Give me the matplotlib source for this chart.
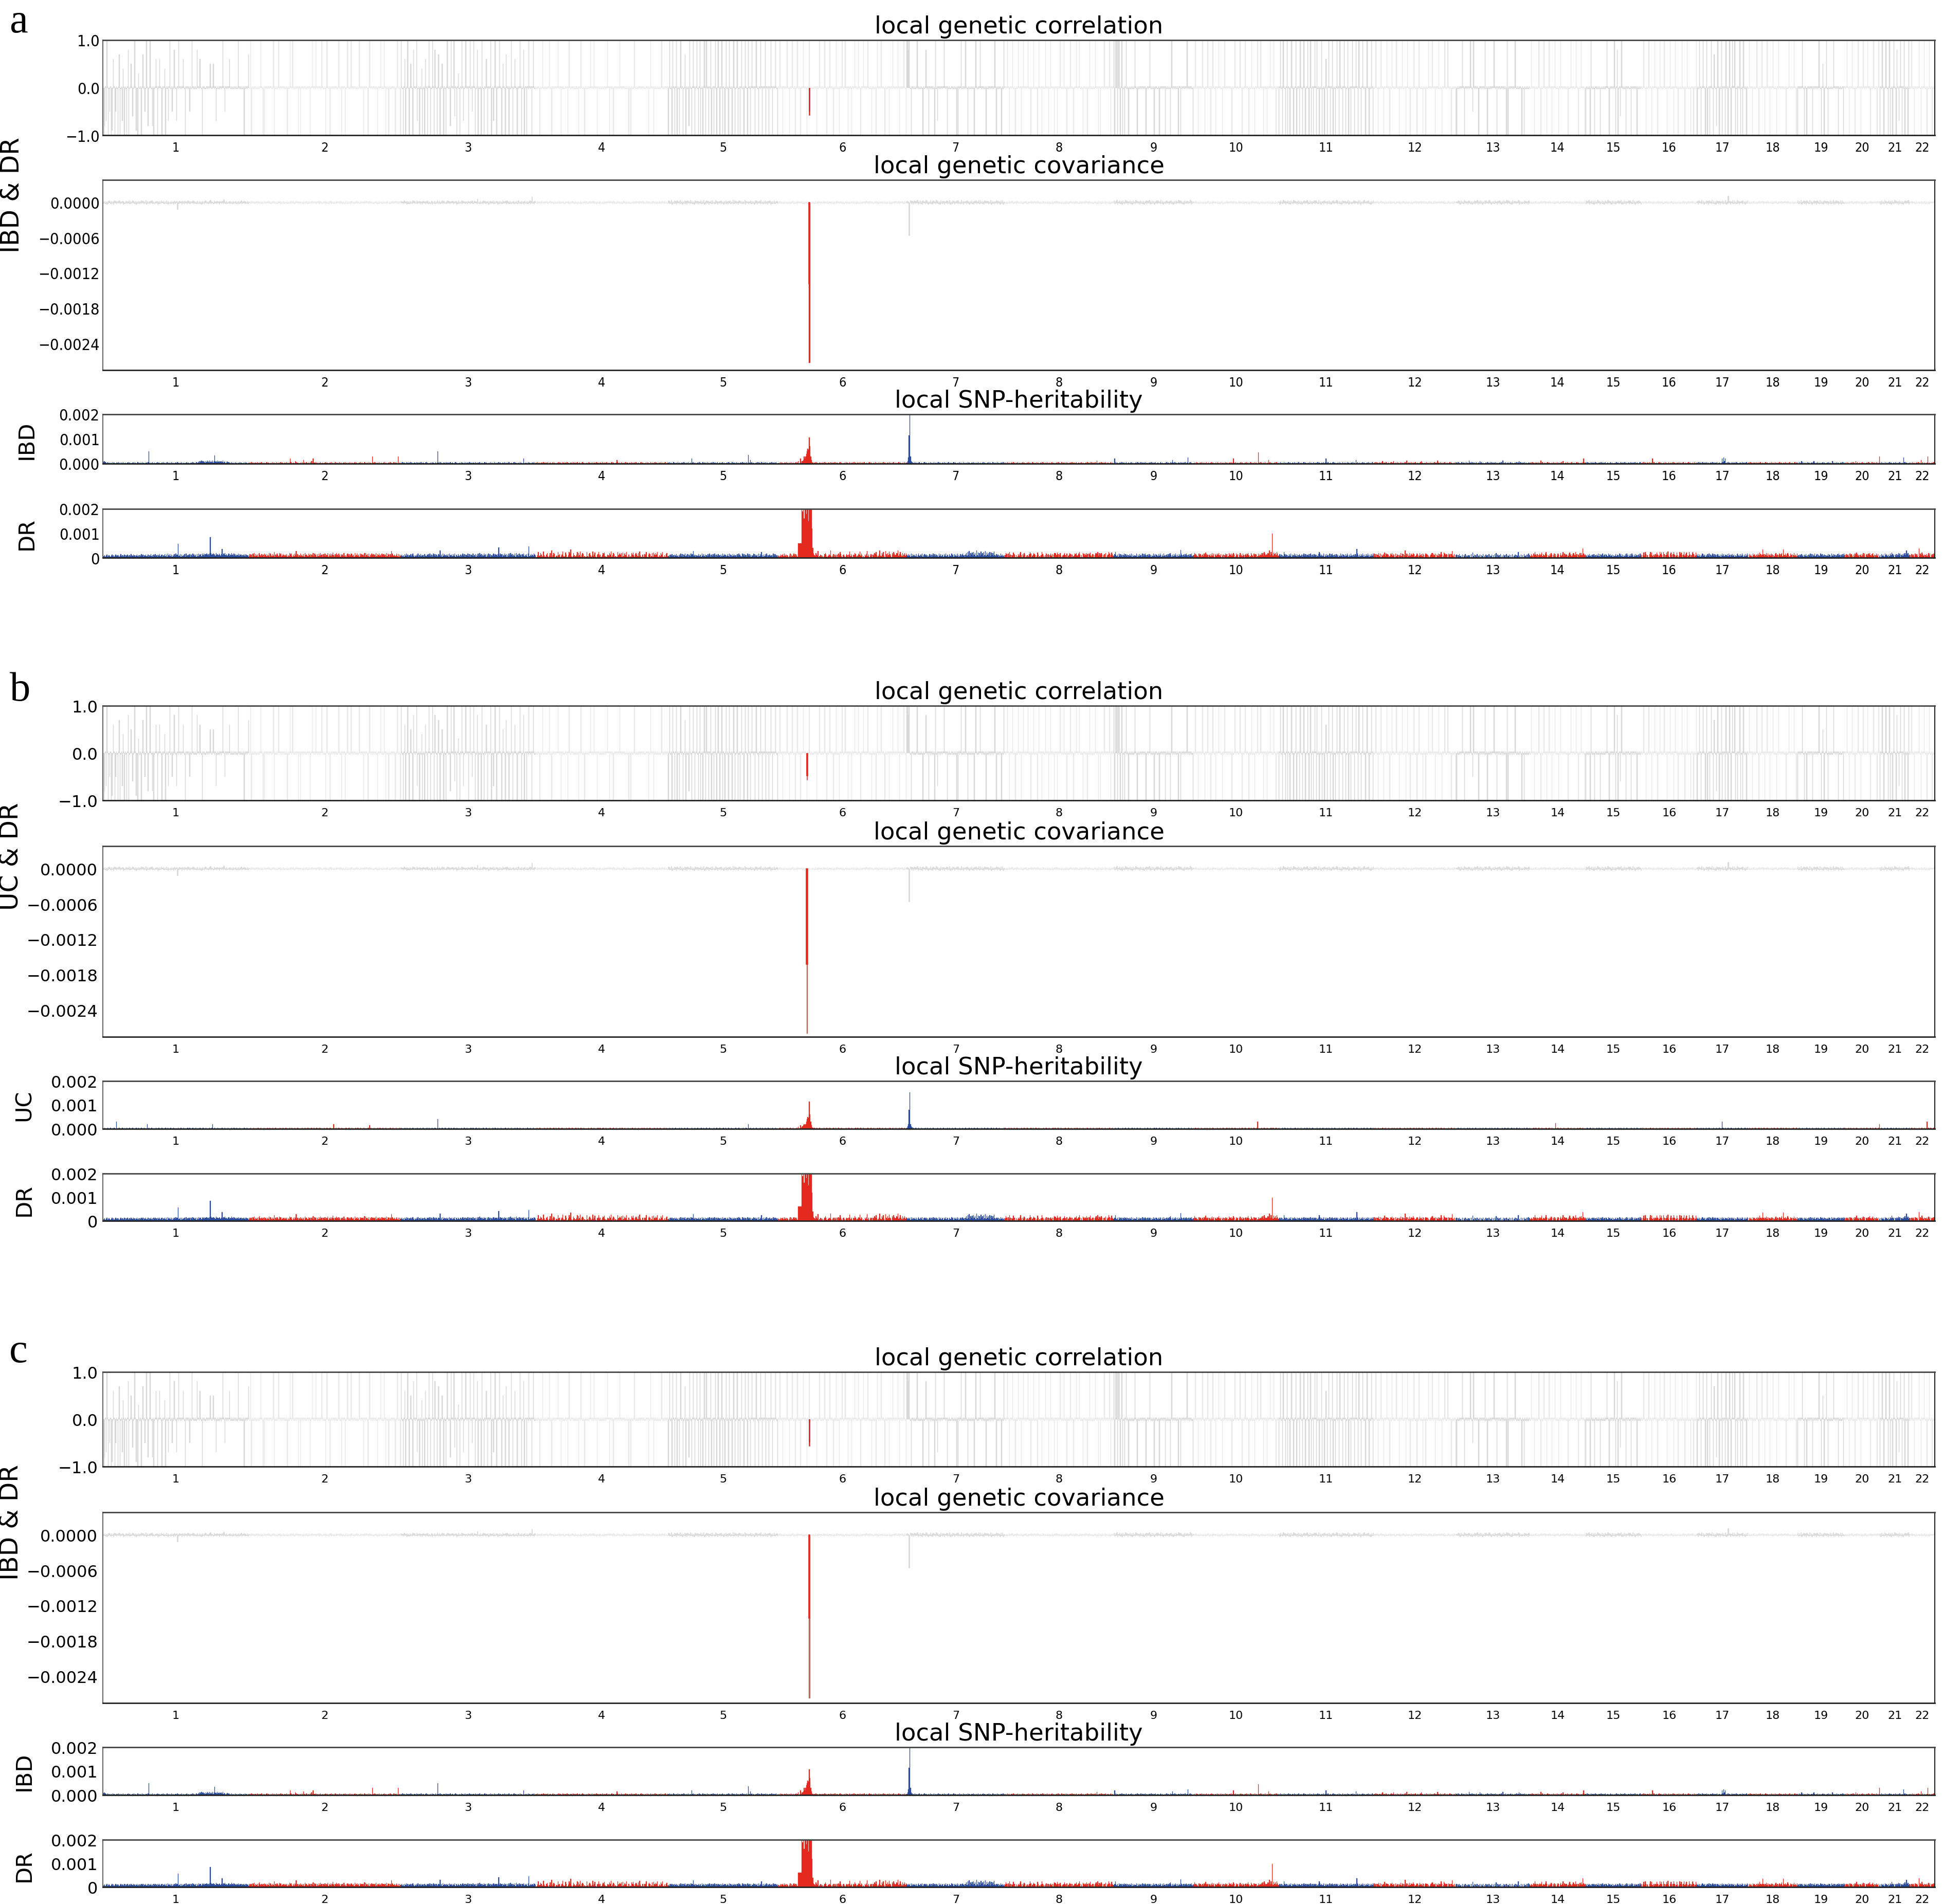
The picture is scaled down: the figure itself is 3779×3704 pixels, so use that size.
import numpy as np
import matplotlib
matplotlib.use("Agg")
import matplotlib.pyplot as plt
from matplotlib.font_manager import FontProperties, findfont

# ----------------------------------------------------------------- data
chromosomes = [str(i) for i in range(1, 23)]
blocks_per_chrom = [199, 207, 183, 181, 150, 175, 134, 148, 109, 116, 129,
                    113, 100, 76, 76, 76, 69, 68, 64, 48, 41, 34]

# local genetic correlation of non-significant loci (one symbol per LD block)
# 'a'..'j' = +0.1..+1.0, 'A'..'J' = -0.1..-1.0, '0' = +0.03, '-' = -0.03
rho_gray_codes = [
    "-JH0Gj0J-E 0JI-f0JE0- J0gJ-0Gd0J 0-J0hJ-0e0 F-0j0I-Jc0 -0J0g-0E-j 0H-0j0-H0J -0f0J-0f0- J0-0dJ0-0G 0j-0E0-h0- G0-j0-0-0f 0-J0-0-0E0 -j0-0-0-h0 0-f0-J0-0- -0-0-0e0-0 e0-0G-0-0- 0-0j0-E0-0 -0f0-0-0-0 0-0-j0-0-0 -0J0-0-0g",
    "0-jJ0-0-0- -0-0-0j0-J 0J0-0-0-00 0-0jJ0-0-0 j0-0-0-0-0 -0J0-0j0-j 0-0-0-0J0- J0-0-0-0-0 0-0J-0j0-0 -j0-0-0-0j 0-0-J0j0-0 J0-0-0-0-0 -0j0-0J0-0 0J-0j0-0-j -0-0-0-0-- j0-0-0J0-0 0-J0j0-0-0 -0-0-J0-0j 0-0-j0J0-0 J0-0-0-0-J 0-j0-0J",
    "j0-J0fJ-0j -J0e0-Jh0- 0jG-0J0-dJ -0Jf0-J0j0 J-0j0Jh0-J 0g-J0-e0J0 -J0j0-0Hj0 0-jF0-J0c- J0-j0G-0j0 -0J0j-0E0j 0J-0hJ0-0J j0-J0-f0J0 -0jJ-0G0j0 J0-0j0-J0e 0-Jg0-0J0- j0J-0f0-J0 -0j0J-0hJ0 0J0-j0-0J0 j0-",
    "0-0-0-J0-0 j-0-0-0-0j -0J0-0-0-0 0j0-0J0-0- -0-0J0j0-0 0-0-0-0-0J 0-j0-0-J0- 0-0-0j0-0- j0-0J0-0-0 -0-0-0-0j0 0J0-0-J0-0 -0-0-j0-0- 0-0-0-0J0- J0-0-j0-0- 0-0-0-0-0- -0-0J0-j0- 0J0-0-0-0- -0j0-0-0-0 0",
    "J0j-0Jj0-J 0jJ0-J0j-0 J-0gJ0-0Hj 0-J0j0J-0j -J0jJ-0J0j 0Jj-0J0-jJ -0J0j-J0j0 J0-jJ0-J0j -0Jj0-0J0j 0J-0jJ-0J0 j-0J0j0-Jj 0-J0j0-0J0 j0-J0-j0J0 -0jJ0-0J0- j0J0-0j0-J",
    "0-j0-0J0-0 -0j0-J0-0j 0-0J0-j0-0 J0-0j0-0-J 0-j0-0---0 -0J0-0j0-0 0-0j0-J0-0 j0-0-J0-0j -0-J0-0j0- 0j0-0J0-0- J0-0j0-0-j 0-J0-0j0-0 -0j0-0-J0- 0-0J0j0-0- j0-0-J0-0- 0J0-0-j0-0 -0-j0J0-0- 0j0-J",
    "jjhj0-J0-0 -0-0j-0-0- 0-J0-0h0-0 J0-0-0-0Jj -0G0-0-0-0 0j0-0J0-0- -0-0-0-0J0 J0-0j-0-0- j0-J0-0-0- 0-J0j0-0-0 j0-0-0-0J0 -0-0-0-0-0 j0J0-0-0-J 0-j0",
    "0-0j0-J0-0 j-0-J0-0j0 -0J0-j0-0- 0j0-0J0-0j -0-0J0j0-0 J0-0-j0-0J 0-j0-0-J0- 0J0-0j0-0- j0-0J0-0-j -0-J0-0j0- 0j0-0-J0-0 -0J0-j0-0- 0-0j0-0J0- J0-0-j0-0- 0-j0J0-0",
    "jJj0jJj-jJ 0jJ-0J0j-0 J-0-0-0-0j 0-J0-0-0-0 -0-0J-0-0j 0-0-0J0-0- -0J0-0-0-0 J0-0-0-J0j -0-0-0-0J0 0J-0-0-0-0 j-0-0-0-J",
    "0-j0-0J0-0 -0j0-J0-0j 0-0J0-j0-0 J0-0j0-0-J 0-j0-0-0-0 -0J0-0j0-0 0-0j0-J0-0 j0-0-J0-0j -0-J0-0j0- 0j0-0J0-0- J0-0j0-0-j 0-J0-0",
    "J0j-0Jj0-J 0jJ0-J0j-0 J-0jJ0-0Jj 0-J0j0J-0j -J0jJ-0J0j 0Jj-0J0-jJ -0J0f-J0j0 J0-jJ0-J0j -0Jj0-0J0j 0J-0jJ-0J0 j-0J0j0-Jj 0-J0j0-0J0 j0-J0-j0J",
    "0-0j0-J0-0 j-0-J0-0j0 -0J0-j0-0- 0j0-0J0-0j -0-0J0j0-0 J0-0-j0-0J 0-j0-0-J0- 0J0-0j0-0- j0-0J0-0-j -0-J0-0j0- 0j0-0-J0-0 -0J",
    "J0-0-0-0j0 -J0-0-0-0j 0-Ej0-0-0- J0-0-0-0-j -0J0-0-0-0 0j0-0J0-0- -0-0-0-0Jj J0-0-0-0-0 j0-0-0-0-J 0-J0-0-0-0",
    "0-j0-0J0-0 -0j0-J0-0j 0-0J0-j0-0 J0-0j0-0-J 0-j0-0-0-0 -0J0-0j0-0 0-0j0-J0-0 j0-0-J",
    "J0-0-0Jj0- 0-J0-0-0-0 J-0-0-0-0j 0-J0-0-0-j -J0hJ-0F0j 0-0-0J0-0- -0J0-0-0-0 J0-0-0",
    "0-0j0-J0-0 j-0-J0-0j0 -0J0-j0-0- 0j0-0J0-0j -0-0J0j0-0 J0-0-j0-0J 0-j0-0-J0- 0J0-0j",
    "J0-j0J-0j0 -J0jJ-0J0j 0-Jg0-H0j0 J0-jJ0-0Jj -0J0j-J0j0 0jJ-0J0-jJ -0Jj0-0J0",
    "0-j0-0J0-0 -0j0-J0-0j 0-0J0-j0-0 J0-0j0-0-J 0-j0-0-0-0 -0J0-0j0-0 0-0j0-J0",
    "J0-0-0j0-J 0-J0-0-0-0 J-0-0-0-0j 0-J0e0J-0j -J0-0-0-0j 0-0-0J0-0- -0J0",
    "0-0j0-J0-0 j-0-J0-0j0 -0J0-j0-0- 0j0-0J0-0j -0-0J0j0",
    "J0-j0J-0j0 -J0jJ-0J0j 0-Jh0-G0j0 J0-jJ0-0Jj -",
    "0-j0-0J0-0 -0j0-J0-0j 0-0J0-j0-0 J0-0",
]

# local genetic covariance of non-significant loci
# '1'..'9' = +1e-5..+9e-5, 'a'..'i' = -1e-5..-9e-5, '0' = 0
cov_gray_codes = [
    "1a2b1c2a31 b2a1c3a2b1 2a3b1a2c1b a2b1a3b2a1 3a1b2c1a2b 1b3a2b1a4c 2a1b2a3b1a b1a2c1b2a3 1a2b1a3b2c a1b2a1c2b1 2f1b2a1c2a b2a1b3a2b1 1a3b2a1b2a a2b1c2a1b3 2a1b2a4b1a b3a1b2a1c2 1a2b5a1b2a a1b2a1b2a1 2b1a2b1a3b 1a2b1a2b1",
    "a1b2a1b1a2 1b2a1a2b1a 2a1b1a2a1b b1a2b1a1b2 1a2b1a2b1a a2b1a1b2a1 2b1a2a1b1a 1a1b2a1a2b b2a1a2b1a1 1b1a2b2a1b a1a2b1a1b2 2b2a1b1a2a 1a1b2a1b1a b2a2b1a1b2 1a1b1a2b1a a2b1a1b2a1 2a1b2a1a1b b1a2b1b2a1 1b2a1a1b2a a1b1a2b1a2 2a1b1a2",
    "2a1b3a1c2b 1b2a1b3a2a a3b1a2b1c2 2a1b2a3b1a b2c1a2b1a3 1a2b1a3b2a a1b3a2b1a2 2b1a2c1b3a 1a3b2a1b1a b2a1b2a3b1 2a1b6a1b2a 1b3a2b1a2c a2b1a3b2a1 2c1b2a1b3a 1a2b3a1b2a b1a2b1a2b3 3a1b2a1c2a a2b1a3b29a 1b2",
    "1a2b1a1b2a a1b1a2b1a2 2b1a1b2a1a 1a2b1b1a2b b1a1a2b1a1 2a1b2a1b1a a2b1a1a2b1 1b1a2b1a2a 2a1b1a2b1b a1b2a1b1a2 1a2a1b2b1a b2a1b1a1b2 2a1b2a1a1b a1a2b1b2a1 1b2a1a2b1a a2b1b1a1b2 2a1a2b1a2b 1b2a1b2a1a b",
    "3b2a4c1a3b 2c3a1b4a2c 1a3b2c3a1b 4a2b1c3a2b 2c1a3b2a4c 1b3a2c1a3b 3a1b4a2c1a 2b3a1c2a3b 1c2a3b1a4b 3a2b1c3a2a 2b1a4c2a1b 1a3b2a1c3a 3c1a2b4a1b 2a3b1c2a3c 1b2a3b1a2b",
    "1a2b1a1b2a a1b1a2b1a2 2b1a1b2a1a 1a2b1b1a2b b1a00b1a1b 2a1b2a1b1a a2b1a1a2b1 1b1a2b1a2a 2a1b1a2b1b a1b2a1b1a2 1a2a1b2b1a b2a1b1a1b2 2a1b2a1a1b a1a2b1b2a1 1b2a1a2b1a a2b1b1a1b2 2a1a2b1a2b 1b2a1",
    "2a1003b2c1 3b2a4c1a3b 2c3a1b4a2c 1a3b2c3a1b 4a2b1c3a2b 2c1a3b2a4c 1b3a2c1a3b 3a1b4a2c1a 2b3a1c2a3b 1c2a3b1a4b 3a2b1c3a2a 2b1a4c2a1b 1a3b2a1c3a 3c1a",
    "a1b1a2b1a2 2b1a1b2a1a 1a2b1b1a2b b1a1a2b1a1 2a1b2a1b1a a2b1a1a2b1 1b1a2b1a2a 2a1b1a2b1b a1b2a1b1a2 1a2a1b2b1a b2a1b1a1b2 2a1b2a1a1b a1a2b1b2a1 1b2a1a2b1a a2b1b1a1",
    "3b2a4c1a3b 2c3a1b4a2c 1a3b2c3a1b 4a2b1c3a2b 2c1a3b2a4c 1b3a2c1a3b 3a1b4a2c1a 2b3a1c2a3b 1c2a3b1a4b 3a2b1c3a2a 2b1a4c2a1",
    "1a2b1a1b2a a1b1a2b1a2 2b1a1b2a1a 1a2b1b1a2b b1a1a2b1a1 2a1b2a1b1a a2b1a1a2b1 1b1a2b1a2a 2a1b1a2b1b a1b2a1b1a2 1a2a1b2b1a b2a1b1",
    "2c3a1b4a2c 1a3b2c3a1b 4a2b1c3a2b 2c1a3b2a4c 1b3a2c1a3b 3a1b4a2c1a 2b3a1c2a3b 1c2a3b1a4b 3a2b1c3a2a 2b1a4c2a1b 1a3b2a1c3a 3c1a2b4a1b 2a3b1c2a3",
    "a1b1a2b1a2 2b1a1b2a1a 1a2b1b1a2b b1a1a2b1a1 2a1b2a1b1a a2b1a1a2b1 1b1a2b1a2a 2a1b1a2b1b a1b2a1b1a2 1a2a1b2b1a b2a1b1a1b2 2a1",
    "1a3b2c3a1b 4a2b1c3a2b 2c1a3b2a4c 1b3a2c1a3b 3a1b4a2c1a 2b3a1c2a3b 1c2a3b1a4b 3a2b1c3a2a 2b1a4c2a1b 1a3b2a1c3a",
    "1a2b1a1b2a a1b1a2b1a2 2b1a1b2a1a 1a2b1b1a2b b1a1a2b1a1 2a1b2a1b1a a2b1a1a2b1 1b1a2b",
    "3b2a4c1a3b 2c3a1b4a2c 1a3b2c3a1b 4a2b1c3a2b 2c1a3b2a4c 1b3a2c1a3b 3a1b4a2c1a 2b3a1c",
    "a1b1a2b1a2 2b1a1b2a1a 1a2b1b1a2b b1a1a2b1a1 2a1b2a1b1a a2b1a1a2b1 1b1a2b1a2a 2a1b1a",
    "2c3a1b4a2c 1a3b2c3a1b 4a2b1c3a2b 2c1a3b2a4c 1b3a2c1a3b 3a1b4a2c1a 2b3a1c2a3",
    "1a2b1a1b2a a1b1a2b1a2 2b1a1b2a1a 1a2b1b1a2b b1a1a2b1a1 2a1b2a1b1a a2b1a1a2",
    "3b2a4c1a3b 2c3a1b4a2c 1a3b2c3a1b 4a2b1c3a2b 2c1a3b2a4c 1b3a2c1a3b 3a1b",
    "a1b1a2b1a2 2b1a1b2a1a 1a2b1b1a2b b1a1a2b1a1 2a1b2a1b",
    "2c3a1b4a2c 1a3b2c3a1b 4a2b1c3a2b 2c1a3b2a4c 1",
    "1a2b1a1b2a a1b1a2b1a2 2b1a1b2a1a 1a2b",
]
cov_gray_peaks = [(1, 101, -0.00012), (7, 3, -0.00056), (17, 42, 0.00011)]

# local SNP-heritability, one symbol per LD block, symbol k -> k * 2e-5
h2_ibd_codes = [
    "5453213212 1203121022 1312021301 2102312011 2031201302 1203121022 13p2021301 2102312011 2031201302 1203121022 1312021301 2102312011 2031201302 4253645342 5364263536 25h4536435 4536243124 2312031201 3120213021 120312102",
    "1203121022 1312021301 2102312011 2031201302 1203121022 131202a301 2105312011 2031720130 1203151a22 1312021301 2102312011 2031201302 1203121022 1312021301 2102312011 2031201302 12031210f2 1312021301 2102312011 2031201302 120f121",
    "2031201302 1203121022 1312021301 2102312011 2031201302 p203121022 1312021301 2102312011 2031201302 1203121022 1312021301 2102312011 2031201302 1203121022 1312021301 2102312011 2031201a02 1203121022 131",
    "1203121022 1312021301 2102312011 2031201302 1203121022 1312021301 2102312011 2031201302 1203121022 1312021301 2102312011 2731201302 1203121022 1312021301 2102312011 2031201302 1203121022 1312021301 2",
    "2031201302 1203121022 1312021301 21a2312011 2031201302 1203121022 1312021301 2102312011 2031201302 1203121022 131202130i 2172312011 2031201302 1203121022 1312021301",
    "1203121022 1312021301 2102312501 a2557fafkp us0zf73212 0312102212 1203121022 1312021301 2102312011 2031201302 1203121022 1312021301 2102312011 2031201302 1203121022 1312021301 2102312011 20312",
    "25c00f5312 1312021301 2102312011 2031201302 1203121022 1312021301 2102312011 2031201302 1203121022 1312021301 2102312011 2031201302 1203121022 1312",
    "1203121022 1312021301 2102312011 2031201302 1203121022 1312021301 2102312011 2031201302 1203121022 1312021301 2102312011 2031201302 1203161022 1312021301 21023120",
    "1a03121022 1312021301 2102312011 2031201302 1203121022 1312021301 2102312011 2031201302 7203121022 1312021301 2c0231201",
    "1203121022 1312021301 2102312011 2031201302 1203121022 1312a21301 2102312011 2031201302 12031210n2 1312021301 2172312011 203120",
    "2031201302 1203121022 1312021301 2102312011 2031201302 1203121022 1312a21301 2102312011 2031201302 1203121022 1312071301 2102312011 203120130",
    "1203121022 1352021301 2102312511 2031201302 1203161022 1312021301 2102352011 2031201302 1203121622 1312021301 2102312011 203",
    "2031201302 1203121622 1312021301 2152312011 2031201302 1203121022 1316021301 2102312011 2031251302 1203121022",
    "1203121022 1312061301 2102312011 2031201302 1203151022 1312021301 2102312011 203a12",
    "2031201302 1203121022 1312021301 2102312011 2031201302 1203121022 1312021301 210231",
    "1203121022 13120a1301 2102312011 2031201302 1203121022 1312021301 2102312011 203120",
    "2031201302 1203121022 1312021301 2102a3c5a1 2031201302 1203121022 131202130",
    "1203121022 1312021301 2102312011 2031201302 1203121022 1312021301 21023120",
    "2031251302 1203121022 1352021301 2102312011 2031201502 1203121022 1312",
    "1203121022 1312051301 2102312011 2031201302 1203121f",
    "2031201302 1203121022 1312021301 21c2312011 2",
    "1203121022 1312071301 2102f12011 2031",
]
h2_ibd_peaks = [(6, 42, 0.00107), (7, 3, 0.00114), (7, 4, 0.0021)]

h2_uc_codes = [
    "1021012010 20101210f1 0120102101 1021012010 2010121021 0120102101 a120102101 1021012010 2010121021 0120102101 1021012010 2010121021 0120102101 1021012010 201012102a 0120102101 1021012010 2010121021 0120102101 102101201",
    "0120102101 1021012010 2010121021 0120102101 1021012010 2010121021 0120102101 1021012010 2010121021 0120102101 1021012010 20101a1021 0120102101 1021012010 2010121021 0120102101 1021712010 2010121021 0120102101 1021012010 2010121",
    "2010121021 0120102101 1021012010 2010121021 0120102101 k021012010 2010121021 0120102101 1021012010 2010121021 0120102101 1021012010 2010121021 0120102101 1021012010 2010121021 0120102101 1021012010 201",
    "0120102101 1021012010 2010121021 0120102101 1021012010 2010121021 0120102101 1021012010 2010121021 0120102101 1021012010 2010121021 0120102101 1021012010 2010121021 0120102101 1021012010 2010121021 0",
    "1021012010 2010121021 0120102101 1021012010 2010121021 0120102101 1021012010 2010121021 0120102101 1021012010 012010210a 1021012010 2010121021 0120102101 1021012010",
    "0120102101 1021012010 2010121401 72457a7afk pn0uf73212 0120102101 1021012010 2010121021 0120102101 1021012010 2010121021 0120102101 1021012010 2010121021 0120102101 1021012010 2010121021 01201",
    "25a00a5312 1021012010 2010121021 0120102101 1021012010 2010121021 0120102101 1021012010 2010121021 0120102101 1021012010 2010121021 0120102101 1021",
    "2010121021 0120102101 1021012010 2010121021 0120102101 1021012010 2010121021 0120102101 1021012010 2010121021 0120102101 1021012010 2010121021 0120102101 10210120",
    "0120102101 1021012010 2010121021 0120102101 1021012010 2010121021 0120102101 1021012010 2010121021 0120102101 102101201",
    "1021012010 2010121021 0120102101 1021012010 2010121021 0120102101 1021012010 2010121021 0120102f01 1021012010 2010121021 012010",
    "2010121021 0120102101 1021012010 2010121021 0120102101 1021012010 2010121021 0120102101 1021012010 2010121021 0120102101 1021012010 201012102",
    "0120102101 1021012010 2010121021 0120102101 1021012010 2010121021 0120102101 1021012010 2010121021 0120102101 1021012010 201",
    "1021012010 2010121021 0120102101 1021012010 2010121021 0120102101 1021012010 2010121021 0120102101 1021012010",
    "2010121021 0120102101 1021012010 20101c1021 0120102101 1021012010 2010121021 012010",
    "1021012010 2010121021 0120102101 1021012010 2010121021 0120102101 1021012010 201012",
    "0120102101 1021012010 2010121021 0120102101 1021012010 2010121021 0120102101 102101",
    "2010121021 0120102101 1021012010 2010f21021 0120102101 1021012010 201012102",
    "1021012010 2010121021 0120102101 1021012010 2010121021 0120102101 10210120",
    "0120102101 1021012010 2010121021 0120102101 1021012010 2010121021 0120",
    "2010121021 0120102101 1021012010 2010121021 0120102a",
    "1021012010 2010121021 0120102101 1021012010 2",
    "0120102101 1021012010 201f121021 0120",
]
h2_uc_peaks = [(6, 42, 0.00113), (7, 3, 0.0008), (7, 4, 0.00152)]

h2_dr_codes = [
    "7352462353 2463524635 3524735246 2536425374 4635246352 5374625463 3625473526 4735264735 6254736285 4736253748 56s3472635 4728356472 6385746273 8467385847 6857485967 8574967586 47i5869574 6847596485 7465847563 564736452",
    "3746285937 4628a53746 2857364928 5374c26485 3968247536 4725396842 6385e47253 8463729564 3857264a38 5627384956 2748365927 4836b52749 6385274639 3526847358 7462935846 2847563a29 5738264857 4629375846 3857462938 6274e85463 5837264",
    "4635274836 2547368425 3648257364 5274365748 3625847362 475f362847 5364728546 3748256374 2635847265 4837265483 5726384957 3648572638 4725368475 637l485726 4857263849 5736482957 3846275836 4728n36475 386",
    "4125c34962 3d52269314 a3f2597134 2c57136d42 3b6125c8h3 1395236c3a 5d26971312 c3179524d3 6b2157c361 2597b31265 3a6d259713 12c5796a2b 3795c21613 2a6b527963 a3d5216127 5c2169713a 2b7596c215 3a6c215279 3",
    "3526473526 4735264837 2648357264 3857e46253 4736528473 6253748526 3748526374 5263847562 4738265374 6352748563 2847365284 7362548736 4628374c52 6374825364 3528476352",
    "4136257384 6253148263 5847362uuu uu00000000 0000000k85 3a64e13652 4137a62147 5f31472631 6185c73156 3147516d37 4165a73148 6d48513164 8e36147516 4a7c5136f4 3a6c41e73a 5d741a6c85 6a8f47c63a 36a48",
    "5374628375 4637258436 3825746352 4736258473 6352847365 2748365274 3856274638 5247368452 6a4c5e3a6b 4c6a3f5b3a 4d6a3c5e4b 6a4c3b5a4d 5374625384 6352",
    "5a7183c615 4b76151374 8c51749613 5137c81469 7514b61315 c714158167 1584716a98 5b71694145 7a51814697 1613587a45 8c61519748 5a7186b417 6158a7c495 8a61571914 6c815b74",
    "47c5362847 3625847362 5374826354 4826374528 3748526374 6253847265 3748526384 5263748a52 6374852637 4g85263748 526374835",
    "5a74631857 416385b746 1573694815 7486a53714 6158471396 5847a61385 7159463851 6847a51396 4185761384 7596a4c857 6a8f5c7e4b 7a5c84",
    "4736253c74 6253748263 5847362574 3625847365 4738526374 62537c8463 4826374528 3748526374 6253847265 3748526384 526374i852 6374852637 485263748",
    "4837165938 16475b3867 5138694751 8375164938 715f481639 4865a71358 6149573861 5876141369 a475816483 75c614b857 6185717e41 715",
    "6152734161 5371425351 71b3615271 4161537141 6351714361 5172a16351 7141635171 4361517143 6153c14161 5173416185",
    "5374185c63 715846b375 48c6153749 6158371486 15946c3857 6148b5736a 85c4716395 a5j846",
    "3526473526 4735264837 2648357264 3857346253 4736528473 6253748526 3748526374 526384",
    "615b4c7151 17c5b41637 5b614c7b51 c715b6d417 b517c614b5 14c7b516c4 7b514c615b c714b6",
    "4736253874 6253748263 5847362574 3625847365 4738526374 6253784637 485263748",
    "5174631857 416385b746 h573694815 7486153794 615847a3h6 5847a61385 71594638",
    "3526473526 4735264837 2648357264 3857346253 4736528473 6253748526 3748",
    "5174631857 416385b746 1573694815 7486a53794 61584713",
    "5174631857 416385b746 1573694815 7486a5f794 6",
    "5174631857 41j385b746 1573694815 7486",
]
h2_dr_peaks = [(1, 146, 0.00084),
               (6, 32, 0.0022), (6, 33, 0.0019), (6, 34, 0.0022), (6, 35, 0.0016),
               (6, 36, 0.0022), (6, 37, 0.0022), (6, 38, 0.0018), (6, 39, 0.0022),
               (6, 40, 0.0022), (6, 41, 0.0015), (6, 42, 0.0022), (6, 43, 0.0022),
               (6, 44, 0.0020), (6, 45, 0.0022), (6, 46, 0.0012),
               (10, 107, 0.00098)]

# significant locus (chromosome 6, MHC): deeper estimate first, shallower second
sig_chrom = 6
sig_block_a, sig_block_b, sig_block_c = 42, 39, 42
rho_sig_a = [-0.58, -0.49]
rho_sig_b = [-0.57, -0.48]
rho_sig_c = [-0.57, -0.48]
cov_sig_a = [-0.00272, -0.00138]
cov_sig_b = [-0.00279, -0.00162]
cov_sig_c = [-0.00276, -0.00141]

rho_ticks = [-1.0, 0.0, 1.0]
rho_ticklabels = ["\u22121.0", "0.0", "1.0"]
cov_ticks = [0.0, -0.0006, -0.0012, -0.0018, -0.0024]
cov_ticklabels = ["0.0000", "\u22120.0006", "\u22120.0012", "\u22120.0018", "\u22120.0024"]
h2_ticks = [0.0, 0.001, 0.002]
h2_ticklabels = ["0.000", "0.001", "0.002"]
dr_ticklabels = ["0", "0.001", "0.002"]

# ----------------------------------------------------------------- decoding
H2_SYMBOLS = "0123456789abcdefghijklmnopqrstuvwxyz"
H2_TABLE = {ch: k * 2e-5 for k, ch in enumerate(H2_SYMBOLS)}
RHO_TABLE = {"0": 0.03, "-": -0.03}
for k, ch in enumerate("abcdefghij"):
    RHO_TABLE[ch] = 0.1 * (k + 1)
for k, ch in enumerate("ABCDEFGHIJ"):
    RHO_TABLE[ch] = -0.1 * (k + 1)
COV_TABLE = {"0": 0.0}
for k in range(1, 10):
    COV_TABLE[str(k)] = k * 1e-5
for k, ch in enumerate("abcdefghi"):
    COV_TABLE[ch] = -(k + 1) * 1e-5

n_blocks = np.array(blocks_per_chrom)
offsets = np.concatenate([[0], np.cumsum(n_blocks)[:-1]])
total = int(n_blocks.sum())
centers = offsets + n_blocks / 2.0
chrom_of_block = np.repeat(np.arange(1, 23), n_blocks)


def decode(codes, table, peaks=()):
    vals = []
    for code, n in zip(codes, blocks_per_chrom):
        s = code.replace(" ", "")
        s = (s + "0" * n)[:n]
        vals.extend(table.get(ch, 0.0) for ch in s)
    arr = np.array(vals, dtype=float)
    for c, i, v in peaks:
        arr[offsets[c - 1] + i] = v
    return arr


rho_gray = decode(rho_gray_codes, RHO_TABLE)
cov_gray = decode(cov_gray_codes, COV_TABLE, cov_gray_peaks)
h2_ibd = decode(h2_ibd_codes, H2_TABLE, h2_ibd_peaks)
h2_uc = decode(h2_uc_codes, H2_TABLE, h2_uc_peaks)
h2_dr = decode(h2_dr_codes, H2_TABLE, h2_dr_peaks)

# ----------------------------------------------------------------- figure
W, H, DPI = 3780, 3705, 100
fig = plt.figure(figsize=(W / DPI, H / DPI), dpi=DPI)
fig.patch.set_facecolor("white")

cond_path = findfont(FontProperties(family="DejaVu Sans", stretch="condensed"))
if "Condensed" in cond_path:
    COND = dict(family="DejaVu Sans", fontstretch="condensed")
else:
    COND = dict(family="DejaVu Sans")
NORMAL = dict(family="DejaVu Sans")

BLUE = "#2b4c9e"
RED = "#e4291e"
BROWN = "#c2665a"
GRAY_ODD = "#d8d8d8"
GRAY_EVEN = "#e9e9e9"

gray_colors = np.where(chrom_of_block % 2 == 1, GRAY_ODD, GRAY_EVEN)
h2_colors = np.where(chrom_of_block % 2 == 1, BLUE, RED)
xpos = np.arange(total) + 0.5


def add_ax(top, bottom, left=200, right=3763):
    return fig.add_axes([left / W, 1 - bottom / H, (right - left) / W, (bottom - top) / H])


def style(ax, ylim, yticks, ylabels, yfont, xfont, ypad, xpad):
    ax.set_xlim(0, total)
    ax.set_ylim(*ylim)
    ax.set_yticks(yticks)
    ax.set_yticklabels(ylabels, **yfont)
    ax.set_xticks(centers)
    ax.set_xticklabels(chromosomes, **xfont)
    ax.tick_params(axis="y", length=0, pad=ypad)
    ax.tick_params(axis="x", length=0, pad=xpad)
    ax.spines["top"].set_color("#444444")
    ax.spines["top"].set_linewidth(2.0)
    ax.spines["bottom"].set_color("#222222")
    ax.spines["bottom"].set_linewidth(2.0)
    ax.spines["left"].set_color("#666666")
    ax.spines["left"].set_linewidth(1.5)
    ax.spines["right"].set_color("#222222")
    ax.spines["right"].set_linewidth(1.5)
    ax.set_facecolor("white")


def draw_panel(letter, letter_xy, pair_label, pair_xy, rows, h2_series, h2_labels,
               h2_label_xy, sig_block, rho_sig, cov_sig, deep_cov_color, condensed):
    yfont = dict(fontsize=22, **COND) if condensed else dict(fontsize=23, **NORMAL)
    xfont = dict(fontsize=18, **COND) if condensed else dict(fontsize=16, **NORMAL)
    ypad = 4.5 if condensed else 7.0
    xpad = 8.6 if condensed else 10.0
    sx = offsets[sig_chrom - 1] + sig_block + 0.5

    # correlation
    ax = add_ax(*rows[0])
    ax.bar(xpos, rho_gray, width=1.0, color=gray_colors, edgecolor=gray_colors, linewidth=0.35)
    ax.bar([sx], [rho_sig[0]], width=1.0, color=RED, edgecolor=RED, linewidth=0.4, zorder=3)
    ax.bar([sx], [rho_sig[1]], width=2.0, color=RED, edgecolor=RED, linewidth=0.5, zorder=4)
    style(ax, (-1.0, 1.0), rho_ticks, rho_ticklabels, yfont, xfont, ypad, xpad)
    ax.set_title("local genetic correlation", fontsize=33.5, pad=10)

    # covariance
    ax = add_ax(*rows[1])
    ax.bar(xpos, cov_gray, width=1.0, color=gray_colors, edgecolor=gray_colors, linewidth=0.5)
    ax.bar([sx], [cov_sig[0]], width=1.0, color=deep_cov_color, edgecolor=deep_cov_color,
           linewidth=1.0, zorder=3)
    ax.bar([sx], [cov_sig[1]], width=2.0, color=RED, edgecolor=RED, linewidth=1.1, zorder=4)
    style(ax, (-0.00285, 0.00038), cov_ticks, cov_ticklabels, yfont, xfont, ypad, xpad)
    ax.set_title("local genetic covariance", fontsize=33.5, pad=10)

    # heritability
    for k, (vals, lab) in enumerate(zip(h2_series, h2_labels)):
        ax = add_ax(*rows[2 + k])
        ax.bar(xpos, vals, width=1.0, color=h2_colors, edgecolor=h2_colors, linewidth=0.2)
        tl = dr_ticklabels if lab == "DR" else h2_ticklabels
        style(ax, (0.0, 0.002), h2_ticks, tl, yfont, xfont, ypad, xpad)
        if k == 0:
            ax.set_title("local SNP-heritability", fontsize=33.5, pad=10)
        fig.text(h2_label_xy[k][0] / W, 1 - h2_label_xy[k][1] / H, lab, rotation=90,
                 ha="center", va="center", fontsize=31, family="DejaVu Sans")

    fig.text(letter_xy[0] / W, 1 - letter_xy[1] / H, letter, ha="center", va="baseline",
             fontsize=58, family="Liberation Serif")
    fig.text(pair_xy[0] / W, 1 - pair_xy[1] / H, pair_label, rotation=90, ha="center",
             va="center", fontsize=35, family="DejaVu Sans")


draw_panel("a", (36, 63), "IBD & DR", (24, 380),
           [(79, 264), (351, 721), (807, 903), (991, 1086)],
           [h2_ibd, h2_dr], ["IBD", "DR"], [(52, 856), (52, 1039)],
           sig_block_a, rho_sig_a, cov_sig_a, RED, True)
draw_panel("b", (39, 1363), "UC & DR", (22, 1666),
           [(1374, 1558), (1647, 2018), (2104, 2197), (2284, 2376)],
           [h2_uc, h2_dr], ["UC", "DR"], [(47, 2150), (47, 2334)],
           sig_block_b, rho_sig_b, cov_sig_b, BROWN, False)
draw_panel("c", (36, 2650), "IBD & DR", (22, 2962),
           [(2670, 2854), (2943, 3314), (3400, 3493), (3580, 3672)],
           [h2_ibd, h2_dr], ["IBD", "DR"], [(47, 3446), (47, 3630)],
           sig_block_c, rho_sig_c, cov_sig_c, BROWN, False)

fig.savefig("out.png", dpi=DPI, facecolor="white")
